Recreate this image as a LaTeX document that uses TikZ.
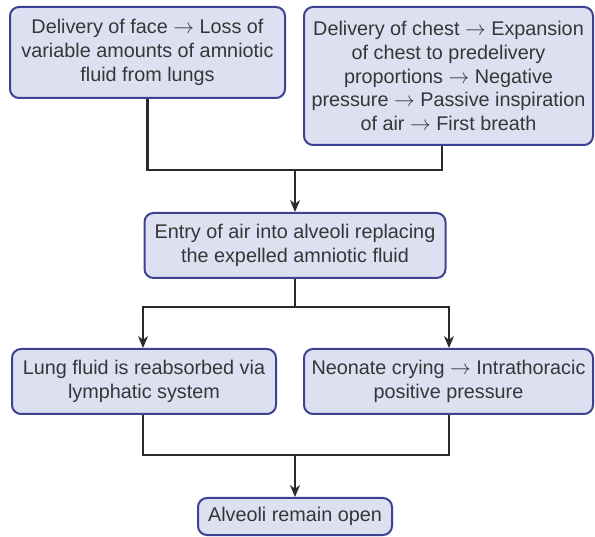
\documentclass[tikz,border=0pt]{standalone}
\usepackage{fontspec}
\setmainfont{Liberation Sans}
\usetikzlibrary{arrows.meta}
\definecolor{boxfill}{HTML}{DDE0F1}
\definecolor{boxline}{HTML}{3C4291}
\definecolor{txt}{HTML}{363636}
\definecolor{conn}{HTML}{2A2A2A}
\begin{document}
\begin{tikzpicture}[x=1pt,y=-1pt,
  box/.style={draw=boxline, fill=boxfill, line width=2pt, rounded corners=9pt,
    inner sep=0pt, align=center, text=txt,
    font=\fontsize{19.8}{23.8}\selectfont},
  conn/.style={draw=conn, line width=2.2pt},
  arr/.style={conn, -{Stealth[length=12pt,width=10pt]}}]
\useasboundingbox (0,0) rectangle (595,537);
\node[box, minimum width=275pt, minimum height=91pt] (A) at (147.5,52.5)
  {Delivery of face $\rightarrow$ Loss of\\variable amounts of amniotic\\fluid from lungs};
\node[box, minimum width=289pt, minimum height=138pt] (B) at (448.5,76)
  {Delivery of chest $\rightarrow$ Expansion\\of chest to predelivery\\proportions $\rightarrow$ Negative\\pressure $\rightarrow$ Passive inspiration\\of air $\rightarrow$ First breath};
\node[box, minimum width=301pt, minimum height=65pt] (C) at (295,245.5)
  {Entry of air into alveoli replacing\\the expelled amniotic fluid};
\node[box, minimum width=264pt, minimum height=65pt] (D) at (144,381.5)
  {Lung fluid is reabsorbed via\\lymphatic system};
\node[box, minimum width=289pt, minimum height=65pt] (E) at (448.5,381.5)
  {Neonate crying $\rightarrow$ Intrathoracic\\positive pressure};
\node[box, minimum width=194pt, minimum height=37pt] (F) at (295,516.5)
  {Alveoli remain open};
\coordinate (j1) at (295,170);
\coordinate (j2) at (295,307);
\coordinate (j3) at (295,455);
\draw[conn] (A.south) |- (j1);
\draw[conn] ([xshift=-6.5pt]B.south) |- (j1);
\draw[arr] (j1) -- (C.north);
\draw[conn] (C.south) -- (j2);
\draw[arr] (j2) -| ([xshift=-1pt]D.north);
\draw[arr] (j2) -| ([xshift=0.5pt]E.north);
\draw[conn] ([xshift=-1pt]D.south) |- (j3);
\draw[conn] ([xshift=0.5pt]E.south) |- (j3);
\draw[arr] (j3) -- (F.north);
\end{tikzpicture}
\end{document}
